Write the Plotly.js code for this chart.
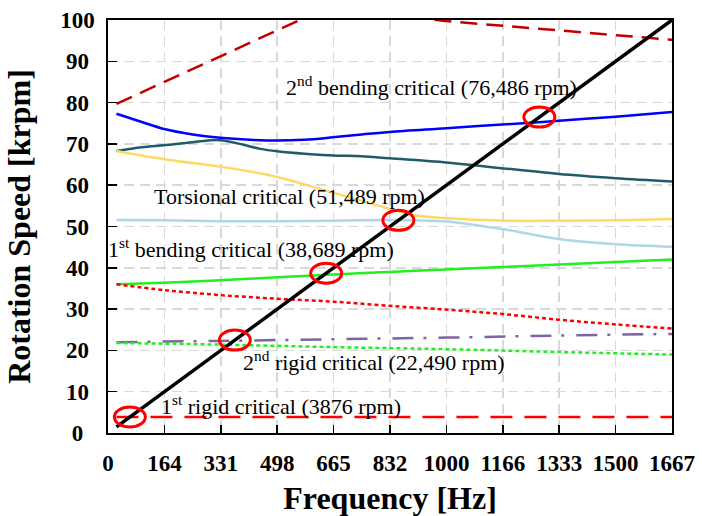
<!DOCTYPE html>
<html>
<head>
<meta charset="utf-8">
<script src="https://cdn.plot.ly/plotly-3.0.1.min.js"></script>
<style>
html,body{margin:0;padding:0;background:#fff;}
#chart{width:702px;height:516px;}
#chart .ytick text { text-anchor: middle !important; }
</style>
</head>
<body>
<div id="chart"></div>
<script>
// Frequency [Hz] vs rotation speed [krpm]
var xTickVals = [0, 166.7, 333.3, 500, 666.7, 833.3, 1000, 1166.7, 1333.3, 1500, 1666.7];
var xTickText = ["0", "164", "331", "498", "665", "832", "1000", "1166", "1333", "1500", "1667"];
var yTickVals = [0, 10, 20, 30, 40, 50, 60, 70, 80, 90, 100];

var syncFreq = [25, 1666.7];
var syncSpeed = [1.5, 100];

var upperDashFreq  = [25, 200, 400, 567, 700, 850, 990, 1200, 1400, 1667];
var upperDashSpeed = [79.7, 86.2, 93.6, 100, 102.5, 101.2, 99.8, 98.4, 97.0, 95.2];

var rigid1Freq  = [25, 1667];
var rigid1Speed = [3.9, 3.9];

var blueFreq  = [25, 100, 166, 250, 331, 420, 500, 580, 665, 750, 832, 1000, 1166, 1333, 1500, 1667];
var blueSpeed = [77.3, 75.3, 73.6, 72.3, 71.5, 71.0, 70.8, 71.0, 71.6, 72.3, 72.9, 73.8, 74.7, 75.6, 76.6, 77.7];

var tealFreq  = [25, 100, 166, 250, 331, 400, 450, 500, 580, 665, 750, 832, 1000, 1179, 1333, 1500, 1667];
var tealSpeed = [68.3, 69.2, 69.7, 70.4, 70.9, 69.8, 68.8, 68.2, 67.6, 67.2, 67.0, 66.5, 65.5, 64.0, 62.7, 61.7, 60.9];

var torsFreq  = [25, 166, 331, 420, 500, 580, 665, 750, 832, 901, 1002, 1179, 1333, 1500, 1667];
var torsSpeed = [68.3, 66.3, 64.5, 63.3, 62.0, 60.2, 58.2, 56.2, 54.3, 52.8, 52.0, 51.4, 51.4, 51.5, 51.8];

var lightBlueFreq  = [25, 166, 331, 500, 665, 832, 900, 1002, 1100, 1179, 1336, 1500, 1667];
var lightBlueSpeed = [51.6, 51.5, 51.3, 51.3, 51.4, 51.6, 51.5, 51.2, 50.2, 49.2, 46.9, 45.7, 45.1];

var greenFreq  = [25, 166, 331, 500, 665, 832, 1000, 1166, 1333, 1500, 1667];
var greenSpeed = [36.0, 36.4, 37.0, 37.7, 38.4, 39.0, 39.6, 40.2, 40.8, 41.4, 42.0];

var redDotFreq  = [25, 166, 331, 500, 665, 832, 1011, 1166, 1336, 1500, 1667];
var redDotSpeed = [36.0, 34.6, 33.4, 32.5, 31.8, 30.8, 29.8, 28.8, 27.4, 26.3, 25.3];

var purpleFreq  = [25, 331, 665, 1000, 1333, 1667];
var purpleSpeed = [22.0, 22.3, 22.7, 23.1, 23.6, 24.0];

var greenDotFreq  = [25, 331, 665, 1000, 1333, 1667];
var greenDotSpeed = [21.8, 21.4, 20.8, 20.3, 19.6, 19.0];

var criticalRpm = [3876, 22490, 38689, 51489, 76486];

var labelTexts = [
  "2<sup>nd</sup> bending critical (76,486 rpm)",
  "Torsional critical (51,489 rpm)",
  "1<sup>st</sup> bending critical (38,689 rpm)",
  "2<sup>nd</sup> rigid critical (22,490 rpm)",
  "1<sup>st</sup> rigid critical (3876 rpm)"
];
var labelFreq  = [955, 536, 422, 787, 511];
var labelSpeed = [84.0, 57.2, 44.8, 17.5, 6.8];

var boldFont = "Times New Roman";
var textFont = "Liberation Serif";

function line(x, y, color, width, dash, smooth) {
  return {x: x, y: y, type: "scatter", mode: "lines", hoverinfo: "skip",
          line: {color: color, width: width, dash: dash || "solid",
                 shape: smooth ? "spline" : "linear", smoothing: 1}};
}

var traces = [
  line(upperDashFreq, upperDashSpeed, "#C00000", 2.5, "17px,9px"),
  line(rigid1Freq, rigid1Speed, "#FF0000", 2.5, "22px,12px"),
  line(blueFreq, blueSpeed, "#0000FF", 2.5, null, true),
  line(tealFreq, tealSpeed, "#215A6A", 2.5, null, true),
  line(torsFreq, torsSpeed, "#FFD966", 2.5, null, true),
  line(lightBlueFreq, lightBlueSpeed, "#ADD8E6", 2.5, null, true),
  line(greenFreq, greenSpeed, "#22EE22", 2.5, null, true),
  line(redDotFreq, redDotSpeed, "#FF0000", 2.5, "4px,3px", true),
  line(purpleFreq, purpleSpeed, "#8064A2", 2.5, "21px,10px,3px,12px", true),
  line(greenDotFreq, greenDotSpeed, "#22EE22", 2.5, "4px,3px", true),
  line(syncFreq, syncSpeed, "#000000", 3.5)
];

var shapes = criticalRpm.map(function (r) {
  return {type: "circle", xref: "x", yref: "y", xsizemode: "pixel", ysizemode: "pixel",
          xanchor: r / 60, yanchor: r / 1000, x0: -15.5, x1: 15.5, y0: -10, y1: 10,
          line: {color: "#FF0000", width: 3}};
});

var annotations = labelTexts.map(function (t, i) {
  return {x: labelFreq[i], y: labelSpeed[i], xref: "x", yref: "y", text: t, showarrow: false,
          font: {family: textFont, size: 22, color: "#000000"}};
});

var layout = {
  width: 702, height: 516,
  margin: {l: 108, r: 30, t: 20, b: 83},
  paper_bgcolor: "#ffffff", plot_bgcolor: "#ffffff",
  showlegend: false,
  xaxis: {
    range: [0, 1666.7], tickvals: xTickVals, ticktext: xTickText,
    showgrid: true, gridcolor: "#D9D9D9", gridwidth: 1.5, griddash: "10px,6px",
    zeroline: false, showline: true, linecolor: "#000000", linewidth: 2, mirror: true,
    ticks: "inside", ticklen: 8, tickwidth: 1.5, tickcolor: "#000000",
    tickfont: {family: boldFont, size: 23, color: "#000000", weight: 700},
    ticklabelstandoff: 8,
    title: {text: "Frequency [Hz]", font: {family: boldFont, size: 32, color: "#000000", weight: 700}, standoff: 13}
  },
  yaxis: {
    range: [0, 100], tickvals: yTickVals,
    showgrid: true, gridcolor: "#D9D9D9", gridwidth: 1.5, griddash: "10px,6px",
    zeroline: false, showline: true, linecolor: "#000000", linewidth: 2, mirror: true,
    ticks: "inside", ticklen: 9, tickwidth: 1.5, tickcolor: "#000000",
    tickfont: {family: boldFont, size: 23, color: "#000000", weight: 700},
    ticklabelstandoff: 24,
    title: {text: "Rotation Speed [krpm]", font: {family: boldFont, size: 32, color: "#000000", weight: 700}, standoff: 3}
  },
  shapes: shapes,
  annotations: annotations
};

Plotly.newPlot("chart", traces, layout, {displayModeBar: false, staticPlot: true});
</script>
</body>
</html>
